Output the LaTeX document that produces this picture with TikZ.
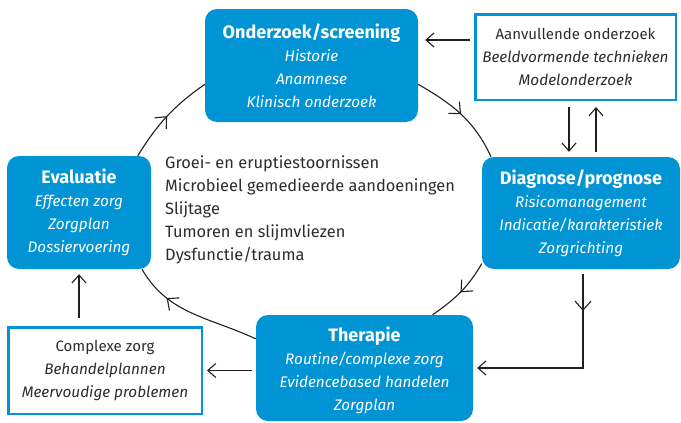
\documentclass[tikz,border=0pt]{standalone}
\usepackage{fontspec}
\setmainfont{Fira Sans}
\usetikzlibrary{arrows.meta,decorations.markings,backgrounds}
\definecolor{boxblue}{RGB}{0,148,212}
\definecolor{linegray}{RGB}{35,31,32}
\definecolor{txtgray}{RGB}{45,45,45}
\newcommand\myhd[1]{{\fontsize{18}{23}\selectfont\bfseries #1}}
\newcommand\myit[1]{{\fontsize{15.3}{23}\selectfont\itshape #1}}
\begin{document}
\begin{tikzpicture}[x=1pt,y=-1pt,
  bluebox/.style={fill=boxblue, rounded corners=12pt, text=white, align=center, inner sep=0pt, font=\fontsize{15}{23}\selectfont},
  whitebox/.style={draw=boxblue, line width=2.5pt, fill=white, text=txtgray, align=center, inner sep=0pt, font=\fontsize{15}{23}\selectfont},
  conn/.style={draw=linegray, line width=1.1pt},
  tipped/.style={conn, -{Straight Barb[length=8pt,width=14pt]}},
  midarrow/.style={conn, postaction={decorate}, decoration={markings, mark=at position #1 with {\arrow{Straight Barb[length=9pt,width=16pt]}}}},
  midarrow/.default=0.5
]
\useasboundingbox (0,0) rectangle (681,423);

\node[bluebox, minimum width=213pt, minimum height=113pt] (on) at (311.5,65.5)
  {\myhd{Onderzoek/screening}\\\myit{Historie}\\\myit{Anamnese}\\\myit{Klinisch onderzoek}};
\node[bluebox, minimum width=198pt, minimum height=112pt] (dg) at (581,213)
  {\myhd{Diagnose/prognose}\\\myit{Risicomanagement}\\\myit{Indicatie/karakteristiek}\\\myit{Zorgrichting}};
\node[bluebox, minimum width=144pt, minimum height=113pt] (ev) at (79,212.5)
  {\myhd{Evaluatie}\\\myit{Effecten zorg}\\\myit{Zorgplan}\\\myit{Dossiervoering}};
\node[bluebox, minimum width=217pt, minimum height=106pt] (th) at (364.5,368)
  {\rule{0pt}{20pt}\myhd{Therapie}\\\myit{Routine/complexe zorg}\\\myit{Evidencebased handelen}\\\myit{Zorgplan}};
\node[whitebox, minimum width=200.5pt, minimum height=85.5pt] (av) at (575.5,57)
  {Aanvullende onderzoek\\\myit{Beeldvormende technieken}\\\myit{Modelonderzoek}};
\node[whitebox, minimum width=193.5pt, minimum height=86.5pt] (cz) at (105,370.5)
  {Complexe zorg\\\myit{Behandelplannen}\\\myit{Meervoudige problemen}};
\node[anchor=west, align=left, text=txtgray, inner sep=0pt, font=\fontsize{16.4}{23}\selectfont] (ls) at (165,210)
  {Groei- en eruptiestoornissen\\Microbieel gemedieerde aandoeningen\\Slijtage\\Tumoren en slijmvliezen\\Dysfunctie/trauma};

\coordinate (a1) at ([xshift=-6.5pt]av.south);
\coordinate (a2) at ([xshift=20.5pt]av.south);
\coordinate (b1) at ([yshift=25.5pt]on.east);
\coordinate (c1) at ([xshift=2pt]dg.south);

\begin{scope}[on background layer]
  \fill[white] (0,0) rectangle (681,423);
  \draw[midarrow] (ev.44) to[out=58,in=215] (on.190);
  \draw[midarrow] (on.-10) to[out=-30,in=115] (dg.148);
  \draw[midarrow] (dg.207) to[out=240,in=35] (th.38);
  \draw[midarrow=0.72] (th.165) to[out=155,in=300] (ev.-42);
\end{scope}

\draw[tipped, shorten <=6pt, shorten >=5pt] (a1) -- (a1 |- dg.north);
\draw[tipped, shorten <=5pt, shorten >=6pt] (a2 |- dg.north) -- (a2);
\draw[tipped, shorten <=4pt, shorten >=7pt] (b1 -| av.west) -- (b1);
\draw[midarrow=0.2, -{Straight Barb[length=8pt,width=14pt]}, shorten <=5pt, shorten >=4pt] (c1) |- (th.east);
\draw[tipped, shorten <=4pt, shorten >=4pt] (th.west |- cz.east) -- (cz.east);
\draw[tipped, shorten <=8pt, shorten >=5pt] (cz.north -| ev.south) -- (ev.south);
\end{tikzpicture}
\end{document}
